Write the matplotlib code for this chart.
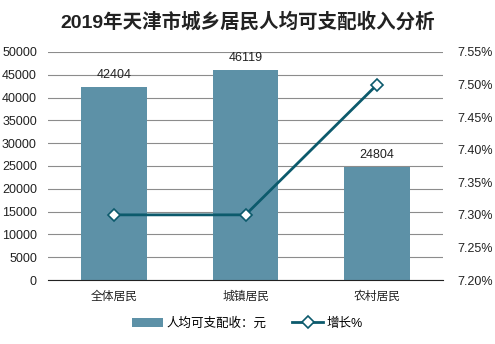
import matplotlib.pyplot as plt
from matplotlib.ticker import FuncFormatter

plt.rcParams['font.family'] = ['Liberation Sans', 'Noto Sans CJK SC', 'DejaVu Sans']

categories = ['全体居民', '城镇居民', '农村居民']
income = [42404, 46119, 24804]
growth = [7.30, 7.30, 7.50]

bar_color = '#5d91a7'
line_color = '#0c5a6c'


def main():
    fig = plt.figure(figsize=(4.95, 3.44), dpi=100)
    ax = fig.add_axes([0.097, 0.186, 0.798, 0.663])

    x = list(range(len(categories)))
    bars = ax.bar(x, income, width=0.5, color=bar_color, label='人均可支配收：元', zorder=2)
    for xi, v in zip(x, income):
        ax.text(xi, v + 1200, str(v), ha='center', va='bottom', fontsize=9, color='#222222')

    ax.set_ylim(0, 50000)
    ax.set_yticks(range(0, 50001, 5000))
    ax.set_xlim(-0.5, 2.5)
    ax.set_xticks(x)
    ax.set_xticklabels(categories, fontsize=8.5)
    ax.yaxis.grid(True, color='#8c8c8c', linewidth=0.8, zorder=0)
    ax.set_axisbelow(True)
    for s in ['left', 'right', 'top']:
        ax.spines[s].set_visible(False)
    ax.spines['bottom'].set_color('#222222')
    ax.tick_params(axis='both', length=0, labelsize=9, colors='#222222')
    ax.tick_params(axis='y', pad=8)
    ax.tick_params(axis='x', pad=8, labelsize=8.5)

    # 右轴：增长率
    ax2 = ax.twinx()
    line, = ax2.plot(x, growth, color=line_color, linewidth=2, marker='D', markersize=6,
                     markerfacecolor='white', markeredgecolor=line_color, markeredgewidth=1.2,
                     label='增长%', zorder=3)
    ax2.set_ylim(7.20, 7.55)
    ax2.set_yticks([7.20, 7.25, 7.30, 7.35, 7.40, 7.45, 7.50, 7.55])
    ax2.yaxis.set_major_formatter(FuncFormatter(lambda v, p: f'{v:.2f}%'))
    for s in ax2.spines.values():
        s.set_visible(False)
    ax2.tick_params(axis='y', length=0, labelsize=9, colors='#222222', pad=10)

    fig.suptitle('2019年天津市城乡居民人均可支配收入分析', fontsize=14, fontweight='bold',
                 y=0.965, color='#222222')

    fig.legend(handles=[bars, line], loc='center', bbox_to_anchor=(0.5, 0.06), ncol=2,
               frameon=False, fontsize=9, handlelength=2.5, columnspacing=2.0,
               handletextpad=0.3)

    plt.savefig('out.png', dpi=100)


if __name__ == "__main__":
    main()
